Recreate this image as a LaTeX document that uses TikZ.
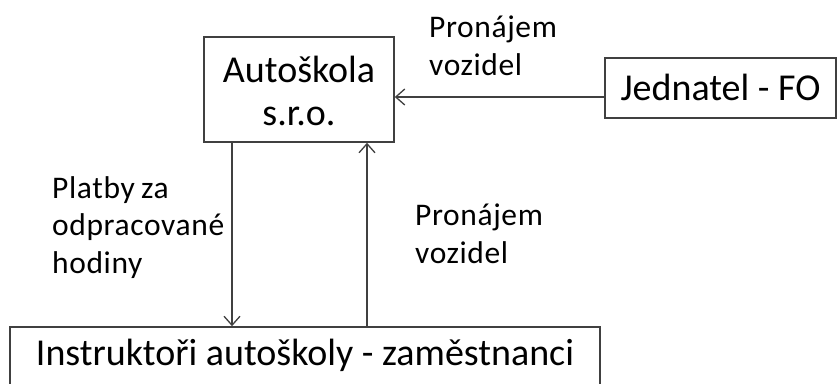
\documentclass[tikz,border=0pt]{standalone}
\usepackage{fontspec}
\setmainfont{Carlito}
\newfontfamily\lblfont[LetterSpace=2,WordSpace=0.8]{Carlito}
\usetikzlibrary{arrows.meta}
\begin{document}
\begin{tikzpicture}[x=1pt,y=-1pt,
  box/.style={draw=black!75, line width=1.6pt, inner sep=0pt, align=center, anchor=base,
              font=\fontsize{38}{43}\selectfont},
  lbl/.style={align=left, inner sep=0pt, anchor=base west,
              font=\lblfont\fontsize{31.5}{37.5}\selectfont},
  arr/.style={draw=black!75, line width=1.6pt,
              -{Straight Barb[length=9pt,width=16pt,line width=1.3pt]}}]
\clip (0,0) rectangle (837,383);
\useasboundingbox (0,0) rectangle (837,383);
% boxes (base anchor = baseline of the last text line)
\node[box, minimum width=190, text height=88, text depth=17] (A) at (299,125) {Autoškola\\s.r.o.};
\node[box, minimum width=231, text height=42, text depth=18] (J) at (720.5,100) {Jednatel - FO};
\node[box, minimum width=590, text height=38, text depth=35] (I) at (305,365) {Instruktoři autoškoly - zaměstnanci};
% helper coordinates
\coordinate (ay) at (0,97);
\coordinate (dx) at (232,0);
\coordinate (ux) at (367,0);
% connectors
\draw[arr] (J.west |- ay) -- (A.east |- ay);
\draw[arr] (A.south -| dx) -- (I.north -| dx);
\draw[arr] (I.north -| ux) -- (A.south -| ux);
% labels (base anchor = baseline of the last line)
\node[lbl] (L1) at (429,75) {Pronájem\\vozidel};
\node[lbl] (L2) at (52,273) {Platby za\\odpracované\\hodiny};
\node[lbl] (L3) at (415,263) {Pronájem\\vozidel};
\end{tikzpicture}
\end{document}
